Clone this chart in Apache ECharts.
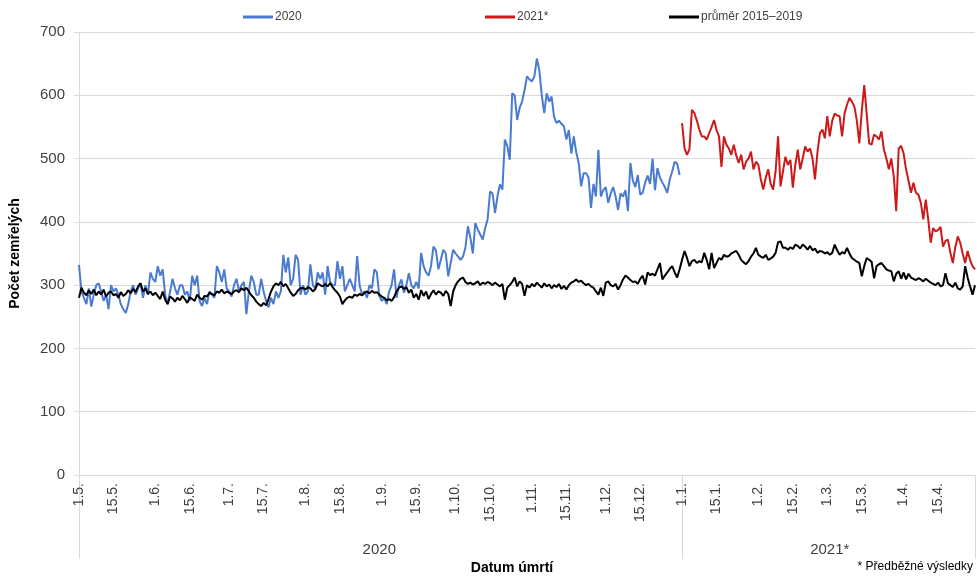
<!DOCTYPE html>
<html>
<head>
<meta charset="utf-8">
<script src="https://cdn.jsdelivr.net/npm/echarts@6/dist/echarts.min.js"></script>
<style>
html,body{margin:0;padding:0;background:#fff;}
#chart{width:977px;height:580px;}
</style>
</head>
<body>
<div id="chart"></div>
<script>
// Daily categories 1.5.2020 - 30.4.2021
const startDate = new Date(2020, 4, 1);
const dayCount = 365;
const categories = [];
const dayOfMonth = [];
for (let i = 0; i < dayCount; i++) {
  const d = new Date(startDate.getFullYear(), startDate.getMonth(), startDate.getDate() + i);
  categories.push(d.getDate() + '.' + (d.getMonth() + 1) + '.');
  dayOfMonth.push(d.getDate());
}
const yearGroups = ['2020', '2021*'];
const yearGroupStart = [0, 245];
const yearGroupLabelIndex = [122, 305];

const seriesNames = ['2020', '2021*', 'průměr 2015–2019'];

// 2020 (1.5. - 31.12.)
const values2020 = [
332,290,280,270,295,266,285,300,303,290,
275,285,262,300,290,295,285,270,262,256,
270,290,300,285,295,303,280,300,285,320,
310,305,330,315,325,285,270,290,310,295,
285,300,300,285,290,275,315,300,315,275,
267,280,270,290,285,280,330,320,305,325,
295,290,282,300,310,290,300,305,254,290,
315,305,285,285,310,290,275,265,280,270,
290,280,290,348,320,344,300,310,348,340,
285,300,285,290,333,300,295,320,310,320,
285,330,305,300,300,338,310,330,290,300,
310,300,290,346,300,285,290,280,300,295,
325,320,283,275,280,270,290,300,325,280,
300,309,288,300,319,300,295,305,295,351,
330,320,315,330,361,355,325,340,356,350,
314,335,356,350,345,340,345,360,393,375,
350,398,388,380,372,390,404,448,445,414,
440,459,451,530,520,498,603,600,561,580,
590,608,630,625,622,630,658,640,600,572,
603,590,598,566,556,560,555,551,530,545,
508,535,510,493,456,477,477,470,422,460,
440,514,440,450,455,430,445,455,440,419,
445,440,450,417,493,465,455,474,443,446,
462,473,460,500,450,485,470,462,455,446,
467,480,495,492,474
];

// 2021* (1.1. - 30.4.)
const values2021 = [
556,516,506,515,577,572,560,546,535,535,
530,540,550,561,545,535,487,535,522,516,
506,522,505,493,506,483,495,500,511,483,
495,490,467,451,470,483,460,451,480,535,
456,480,503,490,498,454,490,514,483,500,
519,511,516,500,467,510,540,546,532,567,
535,560,571,568,567,535,571,585,596,590,
582,560,524,575,616,571,524,522,538,535,
530,543,514,500,483,500,472,417,516,520,
508,483,465,446,462,446,443,430,404,435,
404,367,390,385,387,392,361,370,372,351,
335,360,377,367,350,335,354,340,330,325
];

// průměr 2015–2019 (1.5. - 30.4.)
const valuesAvg = [
280,296,288,284,292,286,293,284,290,285,
293,282,288,290,284,286,280,289,283,286,
292,287,294,289,298,303,290,295,286,290,
284,288,283,278,290,277,270,282,279,274,
280,276,283,278,272,281,278,275,285,280,
277,283,282,288,286,284,290,288,293,287,
290,288,286,290,292,289,295,292,296,290,
284,280,274,270,267,272,268,278,290,298,
303,300,305,298,302,295,288,283,286,292,
295,296,293,297,295,290,294,303,300,298,
302,298,303,297,292,288,282,270,276,280,
282,280,285,283,286,284,288,290,287,291,
288,289,285,282,280,276,278,275,281,290,
296,298,294,297,288,293,280,286,277,292,
283,290,278,286,292,285,290,288,283,291,
286,267,290,300,306,310,312,305,302,304,
301,303,306,300,304,302,305,303,300,304,
301,298,302,277,296,300,305,312,298,306,
302,283,300,296,302,298,304,300,296,303,
298,301,295,300,297,302,294,299,293,300,
304,306,309,305,307,303,300,302,298,296,
290,285,296,283,304,306,300,298,302,293,
300,309,315,312,308,305,306,302,310,315,
301,320,316,318,315,325,335,309,315,320,
326,330,320,312,325,340,354,343,330,338,
340,335,338,336,351,340,325,351,327,335,
343,340,348,345,346,350,352,354,348,340,
336,333,338,345,350,359,348,345,343,348,
340,342,345,351,368,369,359,359,356,360,
357,364,362,358,364,361,356,362,355,358,
351,354,353,350,352,348,351,364,355,348,
352,350,359,350,343,340,337,335,314,330,
343,340,337,311,330,333,335,330,325,323,
322,306,318,322,310,320,309,318,312,310,
308,311,309,306,310,307,304,302,300,304,
298,300,319,303,300,297,304,295,293,298,
330,312,298,285,300
];

const yTicks = {min: 0, max: 700, interval: 100};

// build full-length series
const s2020 = categories.map((c, i) => i < values2020.length ? values2020[i] : null);
const s2021 = categories.map((c, i) => {
  const k = i - yearGroupStart[1];
  return (k >= 0 && k < values2021.length) ? values2021[k] : null;
});

const FONT = '"Liberation Sans", Arial, sans-serif';
const colors = ['#4a7bd0', '#cc1a1a', '#000000'];

const chart = echarts.init(document.getElementById('chart'), null, {renderer: 'canvas'});
const legendBase = {
  top: 6, icon: 'rect', itemWidth: 30, itemHeight: 3, itemGap: 4,
  textStyle: {fontFamily: FONT, fontSize: 12, color: '#404040', padding: [0,0,0,-3]}
};
chart.setOption({
  animation: false,
  backgroundColor: '#ffffff',
  textStyle: {fontFamily: FONT},
  legend: [
    Object.assign({}, legendBase, {left: 238, data: [seriesNames[0]]}),
    Object.assign({}, legendBase, {left: 480, data: [seriesNames[1]]}),
    Object.assign({}, legendBase, {left: 664, data: [seriesNames[2]]})
  ],
  grid: {left: 79, right: 2, top: 32, height: 444, containLabel: false},
  xAxis: [{
    type: 'category',
    data: categories,
    boundaryGap: false,
    axisLine: {show: true, lineStyle: {color: '#d9d9d9', width: 1}},
    axisTick: {show: false},
    splitLine: {show: false},
    axisLabel: {
      interval: (idx) => dayOfMonth[idx] === 1 || dayOfMonth[idx] === 15,
      rotate: 90, margin: 8, fontSize: 14, color: '#404040', fontFamily: FONT,
      hideOverlap: false
    },
    name: 'Datum úmrtí',
    nameLocation: 'middle',
    nameGap: 86,
    nameTextStyle: {fontFamily: FONT, fontSize: 14, fontWeight: 'bold', color: '#000', padding: [0, 30, 0, 0]}
  }, {
    type: 'category',
    data: categories,
    boundaryGap: false,
    position: 'bottom',
    offset: 0,
    axisLine: {show: false},
    axisTick: {
      show: true,
      interval: (idx) => idx === yearGroupStart[0] || idx === yearGroupStart[1] || idx === dayCount - 1,
      length: 84, inside: false,
      lineStyle: {color: '#d9d9d9', width: 1}
    },
    axisLabel: {
      interval: (idx) => idx === yearGroupLabelIndex[0] || idx === yearGroupLabelIndex[1],
      formatter: (v, idx) => idx === yearGroupLabelIndex[0] ? yearGroups[0] : yearGroups[1],
      margin: 67, fontSize: 15, color: '#404040', fontFamily: FONT
    },
    splitLine: {show: false}
  }],
  yAxis: {
    type: 'value',
    min: yTicks.min, max: yTicks.max, interval: yTicks.interval,
    axisLine: {show: true, lineStyle: {color: '#d9d9d9'}},
    axisTick: {show: true, length: 5, lineStyle: {color: '#d9d9d9'}},
    splitLine: {show: true, lineStyle: {color: '#d9d9d9', width: 1}},
    axisLabel: {fontSize: 15, color: '#404040', margin: 14, fontFamily: FONT},
    name: 'Počet zemřelých',
    nameLocation: 'middle',
    nameGap: 57,
    nameTextStyle: {fontFamily: FONT, fontSize: 14, fontWeight: 'bold', color: '#000'}
  },
  series: [
    {name: seriesNames[0], type: 'line', data: s2020, showSymbol: false, symbol: 'none',
     lineStyle: {color: colors[0], width: 2}, itemStyle: {color: colors[0]}, z: 3},
    {name: seriesNames[1], type: 'line', data: s2021, showSymbol: false, symbol: 'none',
     lineStyle: {color: colors[1], width: 2}, itemStyle: {color: colors[1]}, z: 3},
    {name: seriesNames[2], type: 'line', data: valuesAvg, showSymbol: false, symbol: 'none',
     lineStyle: {color: colors[2], width: 2}, itemStyle: {color: colors[2]}, z: 4}
  ],
  graphic: [{
    type: 'text', right: 4, top: 561,
    style: {text: '* Předběžné výsledky', fontFamily: FONT, fontSize: 12, fill: '#000'}
  }]
});
</script>
</body>
</html>
